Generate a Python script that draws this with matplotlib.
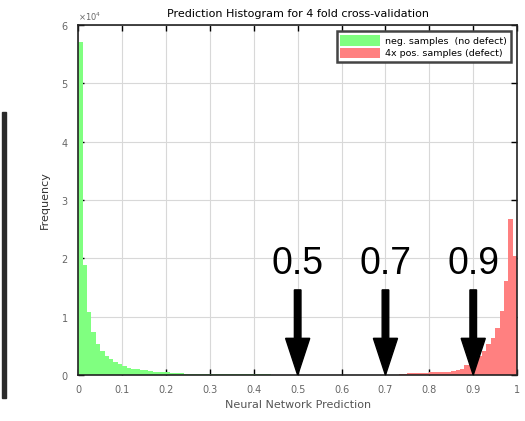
import numpy as np
from matplotlib import pyplot as plt
from matplotlib.patches import Rectangle

# histogram bins (100 bins of width 0.01 on [0, 1])
bin_edges = np.linspace(0.0, 1.0, 101)

# counts of negative samples, bins 0..47
neg_counts = [57000, 18800, 10800, 7300, 5300, 4100, 3300, 2700, 2200, 1900,
              1500, 1300, 1100, 1000, 900, 800, 700, 600, 550, 500,
              450, 400, 350, 300, 250, 240, 230, 220, 210, 200,
              190, 180, 170, 160, 150, 150, 140, 140, 130, 130,
              120, 120, 110, 110, 100, 100, 100, 100]

# counts of (4x) positive samples, bins 62..99
pos_counts = [100, 100, 100, 100, 100, 100, 100, 100, 100, 100,
              100, 120, 150, 300, 300, 300, 320, 350, 500, 500,
              520, 550, 600, 700, 800, 1000, 1700, 2100, 2700, 3300,
              4100, 5300, 6400, 8100, 11000, 16100, 26700, 20400]

thresholds = [0.5, 0.7, 0.9]
threshold_labels = ["0.5", "0.7", "0.9"]

neg_w = np.zeros(100)
neg_w[:len(neg_counts)] = neg_counts
pos_w = np.zeros(100)
pos_w[100 - len(pos_counts):] = pos_counts
centers = (bin_edges[:-1] + bin_edges[1:]) / 2

fig = plt.figure(figsize=(5.25, 4.21), dpi=100)
ax = fig.add_axes([0.149, 0.109, 0.836, 0.832])

ax.hist(centers, bins=bin_edges, weights=neg_w, color="#80ff80",
        label="neg. samples  (no defect)", zorder=2)
ax.hist(centers, bins=bin_edges, weights=pos_w, color="#ff8080",
        label="4x pos. samples (defect)", zorder=2)

ax.set_xlim(0, 1)
ax.set_ylim(0, 60000)
ax.set_xticks(np.arange(0, 1.01, 0.1))
ax.set_xticklabels(["0", "0.1", "0.2", "0.3", "0.4", "0.5", "0.6", "0.7", "0.8", "0.9", "1"])
ax.set_yticks(np.arange(0, 60001, 10000))
ax.ticklabel_format(axis="y", style="sci", scilimits=(0, 0), useMathText=True)
ax.yaxis.get_offset_text().set_fontsize(6)
ax.yaxis.get_offset_text().set_color("#555555")

ax.grid(True, color="#d8d8d8", linewidth=0.8, zorder=0)
ax.set_axisbelow(True)
ax.tick_params(direction="in", top=True, right=True, length=4, width=1,
               labelsize=7, labelcolor="#666666", pad=7)
for s in ax.spines.values():
    s.set_linewidth(1.2)
    s.set_color("#222222")

ax.set_title("Prediction Histogram for 4 fold cross-validation", fontsize=8, pad=6)
ax.set_xlabel("Neural Network Prediction", fontsize=8, color="#555555")
ax.set_ylabel("Frequency", fontsize=8, color="#333333", labelpad=8)

leg = ax.legend(loc="upper right", fontsize=6.8, handlelength=4.2, handleheight=1.3,
                fancybox=False, edgecolor="#444444", framealpha=1,
                borderaxespad=0.7, labelspacing=0.25, handletextpad=0.5)
leg.get_frame().set_linewidth(1.8)

for t, lab in zip(thresholds, threshold_labels):
    ax.arrow(t, 14600, 0, -14600, width=0.015, head_width=0.055,
             head_length=6300, length_includes_head=True, color="black", zorder=4)
    ax.text(t, 19000, lab, fontsize=27, family="Liberation Sans",
            ha="center", va="center", zorder=4)

# dark bar at the left edge of the picture
fig.patches.append(Rectangle((0.004, 0.055), 0.008, 0.68, transform=fig.transFigure,
                             color="#2a2a2a", figure=fig))

fig.savefig("out.png", dpi=100)
